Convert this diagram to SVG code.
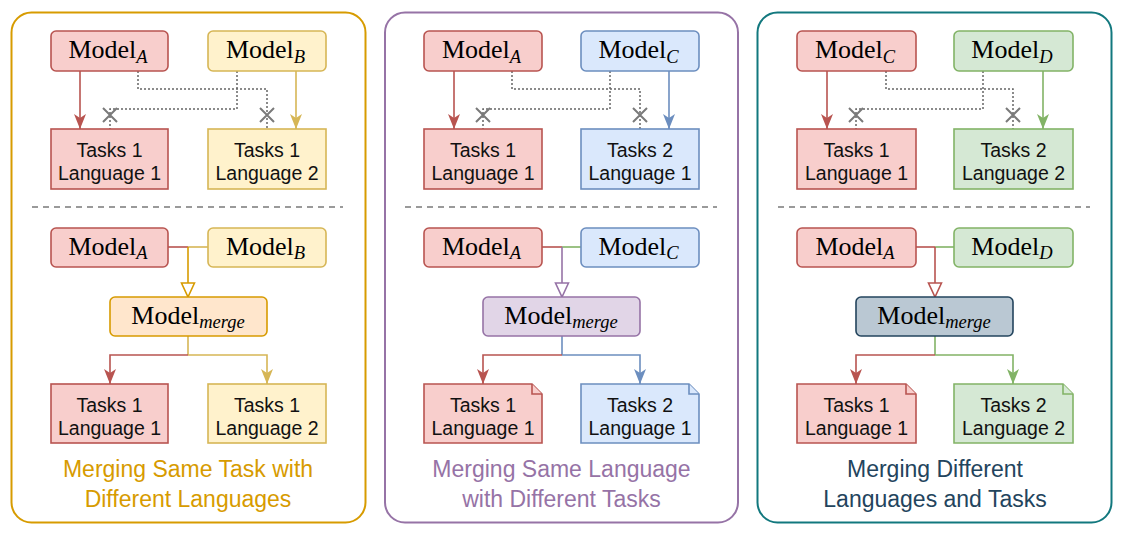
<svg xmlns="http://www.w3.org/2000/svg" width="1123" height="548" viewBox="0 0 1123 548">
<style>
.panel{fill:#ffffff;stroke-width:2}
.box{stroke-width:1.6}
.red{fill:#f8cecc;stroke:#b85450}
.yel{fill:#fff2cc;stroke:#d6b656}
.blu{fill:#dae8fc;stroke:#6c8ebf}
.grn{fill:#d5e8d4;stroke:#82b366}
.pur{fill:#e1d5e7;stroke:#9673a6}
.org{fill:#ffe6cc;stroke:#d79b00}
.slt{fill:#bac8d3;stroke:#23445d}
.m{font-family:"Liberation Serif","Times New Roman",serif;font-size:26px;fill:#000;text-anchor:middle}
.sub{font-size:18.5px;font-style:italic}
.t{font-family:"Liberation Sans",Arial,Helvetica,sans-serif;font-size:19.5px;fill:#111;text-anchor:middle}
.cap{font-family:"Liberation Sans",Arial,Helvetica,sans-serif;font-size:23px;text-anchor:middle}
.ln{fill:none;stroke-width:1.6}
.dot{fill:none;stroke:#666;stroke-width:1.5;stroke-dasharray:2 2}
.x{stroke:#7a7a7a;stroke-width:2;fill:none}
.div{stroke:#7a7a7a;stroke-width:1.6;stroke-dasharray:6 5}
</style>
<defs>
<marker id="aR" viewBox="0 0 15 12" refX="15" refY="6" markerWidth="15" markerHeight="12" orient="auto" markerUnits="userSpaceOnUse"><path d="M0,0 L15,6 L0,12 L4,6 Z" fill="#b85450"/></marker>
<marker id="aY" viewBox="0 0 15 12" refX="15" refY="6" markerWidth="15" markerHeight="12" orient="auto" markerUnits="userSpaceOnUse"><path d="M0,0 L15,6 L0,12 L4,6 Z" fill="#d6b656"/></marker>
<marker id="aB" viewBox="0 0 15 12" refX="15" refY="6" markerWidth="15" markerHeight="12" orient="auto" markerUnits="userSpaceOnUse"><path d="M0,0 L15,6 L0,12 L4,6 Z" fill="#6c8ebf"/></marker>
<marker id="aG" viewBox="0 0 15 12" refX="15" refY="6" markerWidth="15" markerHeight="12" orient="auto" markerUnits="userSpaceOnUse"><path d="M0,0 L15,6 L0,12 L4,6 Z" fill="#82b366"/></marker>
<marker id="hO" viewBox="-1 -1 16 16" refX="14" refY="7" markerWidth="16" markerHeight="16" orient="auto" markerUnits="userSpaceOnUse"><path d="M0,0.5 L14,7 L0,13.5 Z" fill="#fff" stroke="#d79b00" stroke-width="1.6"/></marker>
<marker id="hP" viewBox="-1 -1 16 16" refX="14" refY="7" markerWidth="16" markerHeight="16" orient="auto" markerUnits="userSpaceOnUse"><path d="M0,0.5 L14,7 L0,13.5 Z" fill="#fff" stroke="#9673a6" stroke-width="1.6"/></marker>
<marker id="hR" viewBox="-1 -1 16 16" refX="14" refY="7" markerWidth="16" markerHeight="16" orient="auto" markerUnits="userSpaceOnUse"><path d="M0,0.5 L14,7 L0,13.5 Z" fill="#fff" stroke="#b85450" stroke-width="1.6"/></marker>
</defs>
<rect width="1123" height="548" fill="#ffffff"/>

<g id="panel1">
<rect class="panel" x="11.5" y="12.5" width="354" height="510" rx="20" stroke="#d79b00"/>
<line class="div" x1="32" y1="207" x2="343" y2="207"/>
<text class="cap" fill="#d79b00" x="188" y="477">Merging Same Task with</text>
<text class="cap" fill="#d79b00" x="188" y="507">Different Languages</text>
</g>
<g id="panel2">
<rect class="panel" x="385" y="12.5" width="353" height="510" rx="20" stroke="#9673a6"/>
<line class="div" x1="405" y1="207" x2="717" y2="207"/>
<text class="cap" fill="#9673a6" x="561.5" y="477">Merging Same Language</text>
<text class="cap" fill="#9673a6" x="561.5" y="507">with Different Tasks</text>
</g>
<g id="panel3">
<rect class="panel" x="757.5" y="12.5" width="354" height="510" rx="20" stroke="#12787e"/>
<line class="div" x1="778" y1="207" x2="1090" y2="207"/>
<text class="cap" fill="#23445d" x="935" y="477">Merging Different</text>
<text class="cap" fill="#23445d" x="935" y="507">Languages and Tasks</text>
</g>

<g id="connectors">
<!-- panel 1 top -->
<path class="ln" stroke="#b85450" d="M80,71 V129" marker-end="url(#aR)"/>
<path class="ln" stroke="#d6b656" d="M296,71 V129" marker-end="url(#aY)"/>
<path class="dot" d="M138,71 V89 H267 V129"/>
<path class="dot" d="M237,71 V109 H110 V129"/>
<path class="x" d="M103,108 L117,122 M117,108 L103,122"/>
<path class="x" d="M260,108 L274,122 M274,108 L260,122"/>
<!-- panel 1 bottom -->
<path class="ln" stroke="#b85450" d="M168,247 H188"/>
<path class="ln" stroke="#d6b656" d="M208,247 H188"/>
<path class="ln" stroke="#d79b00" d="M188,247 V297" marker-end="url(#hO)"/>
<path class="ln" stroke="#d6b656" d="M188,336 V355"/>
<path class="ln" stroke="#b85450" d="M188,355 H110 V384" marker-end="url(#aR)"/>
<path class="ln" stroke="#d6b656" d="M188,355 H267 V384" marker-end="url(#aY)"/>
<!-- panel 2 top -->
<path class="ln" stroke="#b85450" d="M454,71 V129" marker-end="url(#aR)"/>
<path class="ln" stroke="#6c8ebf" d="M669,71 V129" marker-end="url(#aB)"/>
<path class="dot" d="M512,71 V89 H640 V129"/>
<path class="dot" d="M610,71 V109 H483 V129"/>
<path class="x" d="M476,108 L490,122 M490,108 L476,122"/>
<path class="x" d="M633,108 L647,122 M647,108 L633,122"/>
<!-- panel 2 bottom -->
<path class="ln" stroke="#b85450" d="M542,247 H562"/>
<path class="ln" stroke="#82b366" d="M581,247 H562"/>
<path class="ln" stroke="#9673a6" d="M562,247 V297" marker-end="url(#hP)"/>
<path class="ln" stroke="#6c8ebf" d="M562,336 V355"/>
<path class="ln" stroke="#b85450" d="M562,355 H483 V384" marker-end="url(#aR)"/>
<path class="ln" stroke="#6c8ebf" d="M562,355 H640 V384" marker-end="url(#aB)"/>
<!-- panel 3 top -->
<path class="ln" stroke="#b85450" d="M827,71 V129" marker-end="url(#aR)"/>
<path class="ln" stroke="#82b366" d="M1043,71 V129" marker-end="url(#aG)"/>
<path class="dot" d="M886,71 V89 H1013 V129"/>
<path class="dot" d="M983,71 V109 H856 V129"/>
<path class="x" d="M849,108 L863,122 M863,108 L849,122"/>
<path class="x" d="M1006,108 L1020,122 M1020,108 L1006,122"/>
<!-- panel 3 bottom -->
<path class="ln" stroke="#b85450" d="M916,247 H935"/>
<path class="ln" stroke="#82b366" d="M954,247 H935"/>
<path class="ln" stroke="#b85450" d="M935,247 V297" marker-end="url(#hR)"/>
<path class="ln" stroke="#82b366" d="M935,336 V355"/>
<path class="ln" stroke="#b85450" d="M935,355 H856 V384" marker-end="url(#aR)"/>
<path class="ln" stroke="#82b366" d="M935,355 H1013 V384" marker-end="url(#aG)"/>
</g>

<!-- Panel 1 nodes -->
<g id="p1-modelA"><rect class="box red" x="51" y="31" width="117" height="40" rx="5"/><text class="m" x="108" y="58">Model<tspan class="sub" dy="4.5">A</tspan></text></g>
<g id="p1-modelB"><rect class="box yel" x="208" y="31" width="118" height="40" rx="5"/><text class="m" x="265.5" y="58">Model<tspan class="sub" dy="4.5">B</tspan></text></g>
<g id="p1-task1"><rect class="box red" x="51" y="129" width="117" height="60"/><text class="t" x="109.5" y="157">Tasks 1</text><text class="t" x="109.5" y="180">Language 1</text></g>
<g id="p1-task2"><rect class="box yel" x="208" y="129" width="118" height="60"/><text class="t" x="267" y="157">Tasks 1</text><text class="t" x="267" y="180">Language 2</text></g>
<g id="p1-modelA2"><rect class="box red" x="51" y="228" width="117" height="39" rx="5"/><text class="m" x="108" y="254.5">Model<tspan class="sub" dy="4.5">A</tspan></text></g>
<g id="p1-modelB2"><rect class="box yel" x="208" y="228" width="118" height="39" rx="5"/><text class="m" x="265.5" y="254.5">Model<tspan class="sub" dy="4.5">B</tspan></text></g>
<g id="p1-merge"><rect class="box org" x="110" y="297" width="157" height="39" rx="5"/><text class="m" x="188" y="323.5">Model<tspan class="sub" dy="4.5">merge</tspan></text></g>
<g id="p1-out1"><rect class="box red" x="51" y="384" width="117" height="59"/><text class="t" x="109.5" y="412">Tasks 1</text><text class="t" x="109.5" y="435">Language 1</text></g>
<g id="p1-out2"><rect class="box yel" x="208" y="384" width="118" height="59"/><text class="t" x="267" y="412">Tasks 1</text><text class="t" x="267" y="435">Language 2</text></g>

<!-- Panel 2 nodes -->
<g id="p2-modelA"><rect class="box red" x="424" y="31" width="118" height="40" rx="5"/><text class="m" x="481.5" y="58">Model<tspan class="sub" dy="4.5">A</tspan></text></g>
<g id="p2-modelC"><rect class="box blu" x="581" y="31" width="118" height="40" rx="5"/><text class="m" x="638.5" y="58">Model<tspan class="sub" dy="4.5">C</tspan></text></g>
<g id="p2-task1"><rect class="box red" x="424" y="129" width="118" height="60"/><text class="t" x="483" y="157">Tasks 1</text><text class="t" x="483" y="180">Language 1</text></g>
<g id="p2-task2"><rect class="box blu" x="581" y="129" width="118" height="60"/><text class="t" x="640" y="157">Tasks 2</text><text class="t" x="640" y="180">Language 1</text></g>
<g id="p2-modelA2"><rect class="box red" x="424" y="228" width="118" height="39" rx="5"/><text class="m" x="481.5" y="254.5">Model<tspan class="sub" dy="4.5">A</tspan></text></g>
<g id="p2-modelC2"><rect class="box blu" x="581" y="228" width="118" height="39" rx="5"/><text class="m" x="638.5" y="254.5">Model<tspan class="sub" dy="4.5">C</tspan></text></g>
<g id="p2-merge"><rect class="box pur" x="483" y="297" width="157" height="39" rx="5"/><text class="m" x="561" y="323.5">Model<tspan class="sub" dy="4.5">merge</tspan></text></g>
<g id="p2-out1"><path class="box red" d="M424,384 H532 L542,394 V443 H424 Z"/><path class="box red" d="M532,384 V394 H542"/><text class="t" x="483" y="412">Tasks 1</text><text class="t" x="483" y="435">Language 1</text></g>
<g id="p2-out2"><path class="box blu" d="M581,384 H689 L699,394 V443 H581 Z"/><path class="box blu" d="M689,384 V394 H699"/><text class="t" x="640" y="412">Tasks 2</text><text class="t" x="640" y="435">Language 1</text></g>

<!-- Panel 3 nodes -->
<g id="p3-modelC"><rect class="box red" x="797" y="31" width="119" height="40" rx="5"/><text class="m" x="855" y="58">Model<tspan class="sub" dy="4.5">C</tspan></text></g>
<g id="p3-modelD"><rect class="box grn" x="954" y="31" width="119" height="40" rx="5"/><text class="m" x="1012" y="58">Model<tspan class="sub" dy="4.5">D</tspan></text></g>
<g id="p3-task1"><rect class="box red" x="797" y="129" width="119" height="60"/><text class="t" x="856.5" y="157">Tasks 1</text><text class="t" x="856.5" y="180">Language 1</text></g>
<g id="p3-task2"><rect class="box grn" x="954" y="129" width="119" height="60"/><text class="t" x="1013.5" y="157">Tasks 2</text><text class="t" x="1013.5" y="180">Language 2</text></g>
<g id="p3-modelA2"><rect class="box red" x="797" y="228" width="119" height="39" rx="5"/><text class="m" x="855" y="254.5">Model<tspan class="sub" dy="4.5">A</tspan></text></g>
<g id="p3-modelD2"><rect class="box grn" x="954" y="228" width="119" height="39" rx="5"/><text class="m" x="1012" y="254.5">Model<tspan class="sub" dy="4.5">D</tspan></text></g>
<g id="p3-merge"><rect class="box slt" x="856" y="297" width="157" height="39" rx="5"/><text class="m" x="934" y="323.5">Model<tspan class="sub" dy="4.5">merge</tspan></text></g>
<g id="p3-out1"><path class="box red" d="M797,384 H906 L916,394 V443 H797 Z"/><path class="box red" d="M906,384 V394 H916"/><text class="t" x="856.5" y="412">Tasks 1</text><text class="t" x="856.5" y="435">Language 1</text></g>
<g id="p3-out2"><path class="box grn" d="M954,384 H1063 L1073,394 V443 H954 Z"/><path class="box grn" d="M1063,384 V394 H1073"/><text class="t" x="1013.5" y="412">Tasks 2</text><text class="t" x="1013.5" y="435">Language 2</text></g>
</svg>
